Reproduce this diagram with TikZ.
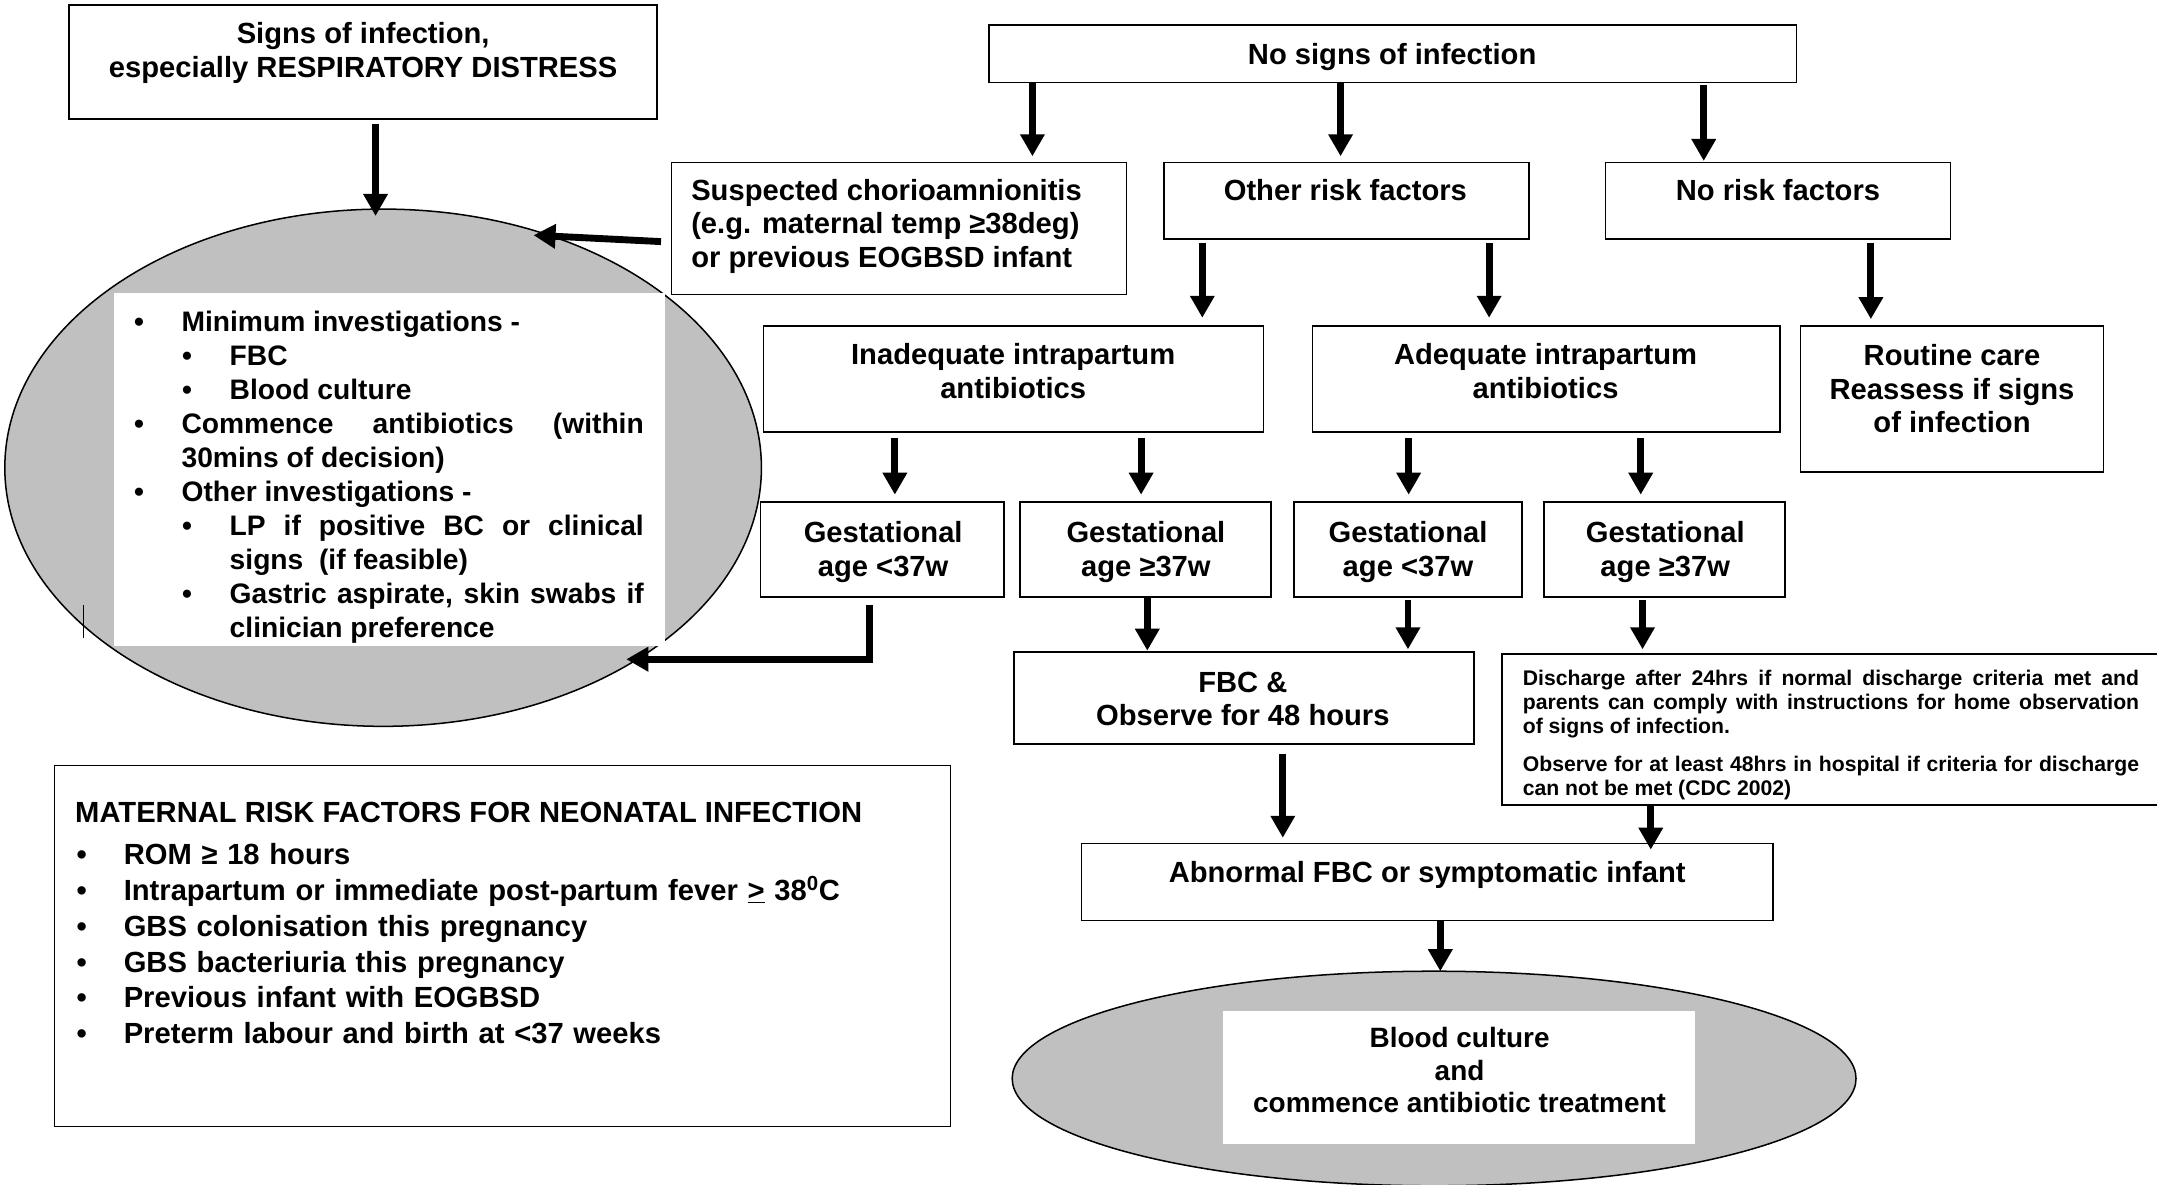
\documentclass[tikz,border=0pt]{standalone}
\usepackage{fontspec}
\setmainfont{Liberation Sans}
\usetikzlibrary{arrows.meta,fit,shapes.geometric}
\definecolor{ellgray}{RGB}{192,192,192}
\newcommand\bigtxt{\fontsize{21.2}{24.5}\selectfont\bfseries}
\newcommand\listtxt{\fontsize{20.5}{24.7}\selectfont\bfseries}
\newcommand\smalltxt{\fontsize{15.4}{17.5}\selectfont\bfseries}
\newcommand\ovaltxt{\fontsize{20.3}{23.9}\selectfont\bfseries}
\newlength\bulgap
\newcommand\itm[2]{\hangindent=#1\relax\hangafter=0\noindent\llap{•\hspace{\bulgap}}#2}
\tikzset{
  box/.style={draw, line width=1.1pt, inner sep=0pt, outer sep=0pt},
  whitebox/.style={fill=white, draw=none, inner sep=0pt, outer sep=0pt},
  oval/.style={ellipse, draw, line width=1.1pt, fill=ellgray, inner sep=0pt, outer sep=0pt},
  arr/.style={line width=5pt, -{Triangle[width=17pt,length=16pt]}},
  lbl/.style={inner sep=0pt, outer sep=0pt, anchor=base, align=center, font=\bigtxt},
}
\begin{document}
\begin{tikzpicture}[x=1pt, y=-1pt]
\useasboundingbox (0,0) rectangle (1568,861);
% ellipses
\node[oval, minimum width=550pt, minimum height=376pt] (ell1) at (278.5,340) {};
\node[whitebox, fit={(83,213) (483.4,469.6)}] (ell1in) {};
\node[oval, minimum width=613.4pt, minimum height=156pt] (ell2) at (1042.5,784) {};
\node[whitebox, fit={(889,735) (1232,831.5)}] (ell2in) {};
% boxes
\node[box, fit={(50,3.5) (477.5,86.5)}] (sig) {};
\node[box, fit={(719,18) (1306,60)}] (nsi) {};
\node[box, fit={(488,118) (819,214)}] (cho) {};
\node[box, fit={(846,118) (1111.5,173.6)}] (orf) {};
\node[box, fit={(1167,118) (1418,173.6)}] (nrf) {};
\node[box, fit={(555,237) (918.6,314)}] (ina) {};
\node[box, fit={(954,237) (1294,314)}] (ade) {};
\node[box, fit={(1309,237) (1529,343)}] (rou) {};
\node[box, fit={(553,365) (730,434)}] (g1) {};
\node[box, fit={(741.5,365) (924,434)}] (g2) {};
\node[box, fit={(940.5,365) (1106.5,434)}] (g3) {};
\node[box, fit={(1122.5,365) (1297.6,434)}] (g4) {};
\node[box, fit={(737,474) (1071.5,541)}] (fbc) {};
\node[box, fit={(1092,475.5) (1590,585)}] (dis) {};
\node[box, fit={(786,613) (1289,669)}] (abn) {};
\node[box, fit={(39.5,556.6) (691,818.8)}] (mat) {};
% texts (base = last line for multi-line centred nodes)
\node[lbl] (tsig) at (264,56.3) {Signs of infection,\\especially RESPIRATORY DISTRESS};
\node[lbl] (tnsi) at (1012,46.6) {No signs of infection};
\node[lbl, anchor=base west, align=left] (tcho) at (502.5,194.6) {Suspected chorioamnionitis\\(e.g. maternal temp ≥38deg)\\or previous EOGBSD infant};
\node[lbl] (torf) at (978,145.6) {Other risk factors};
\node[lbl] (tnrf) at (1292.5,145.6) {No risk factors};
\node[lbl] (tina) at (736.5,289.6) {Inadequate intrapartum\\antibiotics};
\node[lbl] (tade) at (1123.5,289.6) {Adequate intrapartum\\antibiotics};
\node[lbl] (trou) at (1419,314.6) {Routine care\\Reassess if signs\\of infection};
\node[lbl] (tg1) at (642,419.1) {Gestational\\age <37w};
\node[lbl] (tg2) at (833,419.1) {Gestational\\age ≥37w};
\node[lbl] (tg3) at (1023.5,419.1) {Gestational\\age <37w};
\node[lbl] (tg4) at (1210.5,419.1) {Gestational\\age ≥37w};
\node[lbl] (tfbc) at (903.5,527.6) {FBC \&\\Observe for 48 hours};
\node[lbl] (tabn) at (1037.5,641.6) {Abnormal FBC or symptomatic infant};
\node[lbl, font=\ovaltxt] (tell2) at (1061,809) {Blood culture\\and\\commence antibiotic treatment};
\node[lbl, anchor=base west, text width=448pt, align=justify, font=\smalltxt] (tdis) at (1107,498.5)
  {\tolerance=10000\hbadness=10000\hyphenpenalty=10000\setlength{\parskip}{9.5pt}%
   Discharge after 24hrs if normal discharge criteria met and\linebreak parents can comply with instructions for home observation\linebreak of signs of infection.\par
   Observe for at least 48hrs in hospital if criteria for discharge\linebreak can not be met (CDC 2002)};
\node[lbl, anchor=base west, text width=376pt, align=justify, font=\listtxt] (tell1) at (92,241.2)
  {\tolerance=10000\hbadness=10000\hyphenpenalty=10000\setlength{\parskip}{0pt}\setlength{\bulgap}{27.4pt}%
   \itm{40pt}{Minimum investigations -}\par
   \itm{75pt}{FBC}\par
   \itm{75pt}{Blood culture}\par
   \itm{40pt}{Commence antibiotics (within\linebreak 30mins of decision)}\par
   \itm{40pt}{Other investigations -}\par
   \itm{75pt}{LP if positive BC or clinical\linebreak signs\ \ (if feasible)}\par
   \itm{75pt}{Gastric aspirate, skin swabs if\linebreak clinician preference}\par};
\node[lbl, anchor=base west, align=left] (tmat) at (54.7,597.6) {MATERNAL RISK FACTORS FOR NEONATAL INFECTION};
\node[lbl, anchor=base west, text width=630pt, align=left, font=\fontsize{21.2}{26}\selectfont\bfseries] (tmatl) at (50,628.6)
  {\setlength{\parskip}{0pt}\setlength{\bulgap}{26.9pt}%
   \itm{40pt}{ROM ≥ 18 hours}\par
   \itm{40pt}{Intrapartum or immediate post-partum fever \underline{>} 38\textsuperscript{0}C}\par
   \itm{40pt}{GBS colonisation this pregnancy}\par
   \itm{40pt}{GBS bacteriuria this pregnancy}\par
   \itm{40pt}{Previous infant with EOGBSD}\par
   \itm{40pt}{Preterm labour and birth at <37 weeks}\par};
% stray mark
\draw[line width=0.8pt] (61,440) -- (61,464);
% arrows
\draw[arr, shorten <=3.5pt, shorten >=-5pt] (sig.south -| 273,0) -- (ell1.north -| 273,0);
\draw[arr, shorten >=4.4pt] (nsi.south -| 750.5,0) -- (cho.north -| 750.5,0);
\draw[arr, shorten >=4.4pt] (nsi.south -| 974.5,0) -- (orf.north -| 974.5,0);
\draw[arr, shorten <=2pt, shorten >=1pt] (nsi.south -| 1238.5,0) -- (nrf.north -| 1238.5,0);
\draw[arr, shorten <=3.4pt, shorten >=6pt] (orf.south -| 874,0) -- (ina.north -| 874,0);
\draw[arr, shorten <=3.4pt, shorten >=6pt] (orf.south -| 1082.5,0) -- (ade.north -| 1082.5,0);
\draw[arr, shorten <=3.4pt, shorten >=5pt] (nrf.south -| 1360,0) -- (rou.north -| 1360,0);
\draw[arr, shorten <=4.6pt, shorten >=5.4pt] (ina.south -| 650.5,0) -- (g1.north -| 650.5,0);
\draw[arr, shorten <=4.6pt, shorten >=5.4pt] (ina.south -| 829.5,0) -- (g2.north -| 829.5,0);
\draw[arr, shorten <=4.6pt, shorten >=5.4pt] (ade.south -| 1024,0) -- (g3.north -| 1024,0);
\draw[arr, shorten <=4.6pt, shorten >=5.4pt] (ade.south -| 1192.7,0) -- (g4.north -| 1192.7,0);
\draw[arr, shorten <=5.7pt, shorten >=-8pt] (g1.south -| 632,0) |- (ell1.-37);
\draw[arr, shorten >=1pt] (g2.south -| 834,0) -- (fbc.north -| 834,0);
\draw[arr, shorten <=2pt, shorten >=2pt] (g3.south -| 1023.5,0) -- (fbc.north -| 1023.5,0);
\draw[arr, shorten <=2pt, shorten >=3.5pt] (g4.south -| 1194,0) -- (dis.north -| 1194,0);
\draw[arr, shorten <=7pt, shorten >=4pt] (fbc.south -| 932.5,0) -- (abn.north -| 932.5,0);
\draw[arr, shorten >=-4.6pt] (dis.south -| 1200,0) -- (abn.north -| 1200,0);
\draw[arr] (abn.south -| 1047,0) -- (ell2.north -| 1047,0);
\draw[arr, shorten <=7.5pt, shorten >=-13pt] (cho.west |- 0,176) -- (ell1.54);
\end{tikzpicture}
\end{document}
